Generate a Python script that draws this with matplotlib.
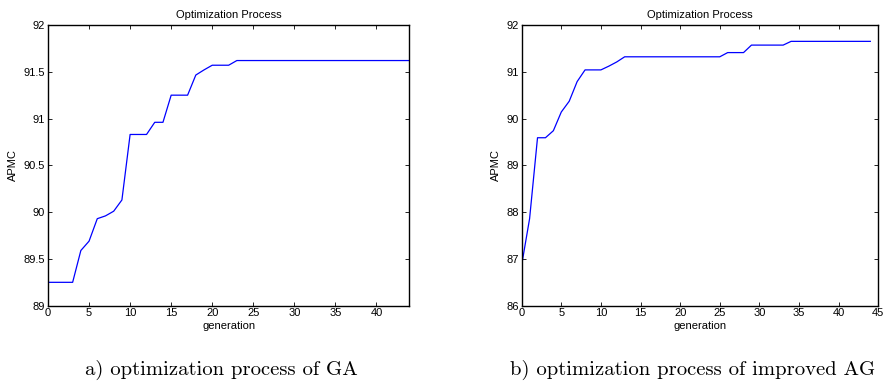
import numpy as np
import matplotlib
matplotlib.use("Agg")
import matplotlib.pyplot as plt

# APMC per generation
gen = np.arange(0, 45)
apmc_ga = [89.25, 89.25, 89.25, 89.25, 89.59, 89.69, 89.93, 89.96, 90.01, 90.13,
           90.83, 90.83, 90.83, 90.96, 90.96, 91.25, 91.25, 91.25, 91.465, 91.52,
           91.57, 91.57, 91.57] + [91.62] * 22
apmc_iag = [86.87, 87.86, 89.59, 89.59, 89.74, 90.14, 90.37, 90.79, 91.04, 91.04,
            91.04, 91.12, 91.21] + [91.32] * 13 + [91.41, 91.41, 91.41] \
           + [91.57] * 5 + [91.65] * 11

captions = ["a) optimization process of GA", "b) optimization process of improved AG"]

plt.rcParams['font.family'] = ['Liberation Sans', 'DejaVu Sans']
fig = plt.figure(figsize=(8.89, 3.82), dpi=100)

ax1 = fig.add_axes([0.054, 0.1997, 0.4064, 0.7349])
ax2 = fig.add_axes([0.5868, 0.1997, 0.4011, 0.7349])

panels = [(ax1, apmc_ga, (0, 44), (89, 92), np.arange(89, 92.01, 0.5)),
          (ax2, apmc_iag, (0, 45), (86, 92), np.arange(86, 92.01, 1))]

for ax, y, xl, yl, yt in panels:
    ax.plot(gen, y, color=(0, 0, 1), lw=0.9)
    ax.set_xlim(*xl)
    ax.set_ylim(*yl)
    ax.set_xticks(np.arange(0, xl[1] + 0.01, 5))
    ax.set_yticks(yt)
    ax.set_yticklabels(["%g" % v for v in yt])
    ax.tick_params(direction='in', top=True, right=True, labelsize=8,
                   length=3, width=0.6, pad=2)
    for s in ax.spines.values():
        s.set_linewidth(1.0)
    ax.set_title("Optimization Process", fontsize=8, pad=5)
    ax.set_xlabel("generation", fontsize=8, labelpad=2)
    ax.set_ylabel("APMC", fontsize=8, labelpad=4)

fig.text(221 / 889, 1 - 375 / 382, captions[0], family='cmr10', fontsize=14.9,
         ha='center', va='baseline')
fig.text(693 / 889, 1 - 375 / 382, captions[1], family='cmr10', fontsize=14.9,
         ha='center', va='baseline')

plt.savefig('out.png', dpi=100)
